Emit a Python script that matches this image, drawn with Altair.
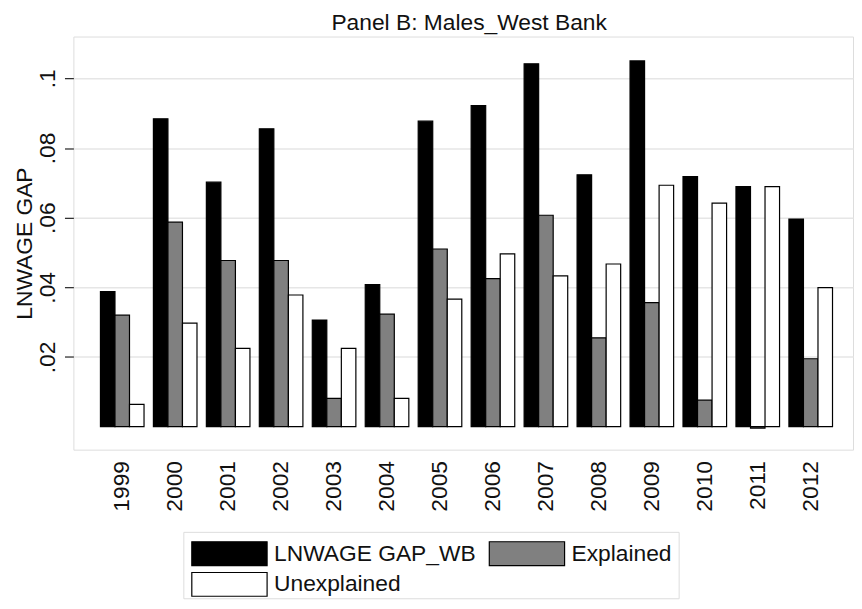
import altair as alt
import pandas as pd

# ---- data ----
years = ['1999', '2000', '2001', '2002', '2003', '2004', '2005',
         '2006', '2007', '2008', '2009', '2010', '2011', '2012']
gap_wb = [0.0388, 0.0884, 0.0702, 0.0855, 0.0306, 0.0408, 0.0877,
          0.0922, 0.1042, 0.0723, 0.1050, 0.0718, 0.0689, 0.0596]
explained = [0.0320, 0.0587, 0.0477, 0.0477, 0.0081, 0.0323, 0.0510,
             0.0425, 0.0607, 0.0255, 0.0356, 0.0076, -0.0004, 0.0195]
unexplained = [0.0064, 0.0297, 0.0225, 0.0378, 0.0225, 0.0081, 0.0366,
               0.0496, 0.0433, 0.0467, 0.0693, 0.0642, 0.0689, 0.0399]
series_names = ['LNWAGE GAP_WB', 'Explained', 'Unexplained']
series_colors = ['#000000', '#808080', '#ffffff']
tick_values = [0.02, 0.04, 0.06, 0.08, 0.1]
tick_labels = ['.02', '.04', '.06', '.08', '.1']
y_domain = [-0.0066, 0.112]
title_text = 'Panel B: Males_West Bank'
y_title = 'LNWAGE GAP'

FONT = 'Liberation Sans'
FS = 23
TXT = '#111111'

rows = []
for i, yr in enumerate(years):
    for s, vals in zip(series_names, [gap_wb, explained, unexplained]):
        rows.append({'year': yr, 'series': s, 'value': vals[i]})
df = pd.DataFrame(rows)

label_expr = " : ".join(
    f"datum.value == {v} ? '{l}'" for v, l in zip(tick_values, tick_labels)
) + " : ''"

color_scale = alt.Scale(domain=series_names, range=series_colors)

main = alt.Chart(df).mark_bar(stroke='#000000', strokeWidth=1.2).encode(
    x=alt.X('year:N', sort=years, title=None,
            scale=alt.Scale(paddingInner=0.177, paddingOuter=0.449, align=0.569),
            axis=alt.Axis(labelAngle=270, labelAlign='right', labelBaseline='middle',
                          labelPadding=11, ticks=False, domain=False, grid=False,
                          labelFontSize=FS, labelFont=FONT, labelColor=TXT)),
    xOffset=alt.XOffset('series:N', sort=series_names,
                        scale=alt.Scale(paddingInner=0, paddingOuter=0)),
    y=alt.Y('value:Q', title=y_title,
            scale=alt.Scale(domain=y_domain, nice=False, zero=False),
            axis=alt.Axis(values=tick_values, labelExpr=label_expr,
                          labelAngle=270, labelAlign='center', labelBaseline='alphabetic',
                          labelPadding=10, tickSize=9, tickColor='#222222', tickWidth=1.2,
                          domain=False, grid=True, gridColor='#e6e6e6', gridWidth=1.5,
                          titleAngle=270, titlePadding=0, titleFontSize=FS,
                          titleFont=FONT, titleFontWeight='normal', titleColor=TXT,
                          labelFontSize=FS, labelFont=FONT, labelColor=TXT)),
    y2=alt.datum(0),
    color=alt.Color('series:N', scale=color_scale, legend=None),
).properties(
    width=787, height=417,
    title=alt.TitleParams(title_text, fontSize=FS, font=FONT, fontWeight='normal',
                          baseline='alphabetic', offset=-16, anchor='middle',
                          frame='group', dx=6, color=TXT),
)

leg_df = pd.DataFrame({
    'series': series_names,
    'row': [i // 2 for i in range(len(series_names))],
    'col': [i % 2 for i in range(len(series_names))],
})
swatch_shape = 'M-1,-0.316L1,-0.316L1,0.316L-1,0.316Z'
x_leg = alt.X('col:Q', scale=alt.Scale(domain=[-0.155, 1.51], nice=False, zero=False), axis=None)
y_leg = alt.Y('row:Q', scale=alt.Scale(domain=[-0.71, 1.452], nice=False, zero=False, reverse=True), axis=None)

swatches = alt.Chart(leg_df).mark_point(
    shape=swatch_shape, size=5776, filled=True, stroke='#000000',
    strokeWidth=1.2, opacity=1
).encode(x=x_leg, y=y_leg, fill=alt.Fill('series:N', scale=color_scale, legend=None))

labels = alt.Chart(leg_df).mark_text(
    align='left', baseline='middle', dx=45, fontSize=FS, font=FONT, color=TXT
).encode(x=x_leg, y=y_leg, text='series:N')

legend = alt.layer(swatches, labels).properties(width=500, height=67)

# invisible spacer that pushes the legend box to its place under the plot
spacer = alt.Chart(leg_df).mark_point(opacity=0).encode(
    x=alt.X('col:Q', axis=None), y=alt.Y('row:Q', axis=None)
).properties(width=106, height=67, view=alt.ViewBackground(stroke='transparent'))

legend_row = alt.hconcat(spacer, legend, spacing=0)

chart = alt.vconcat(main, legend_row, spacing=16).properties(
    padding={'left': 5, 'top': 0, 'right': 0, 'bottom': 0}
).configure_view(stroke='#333333', strokeWidth=1.2).configure(font=FONT)

chart.save('out.html', embed_options={'renderer': 'svg', 'actions': False})
